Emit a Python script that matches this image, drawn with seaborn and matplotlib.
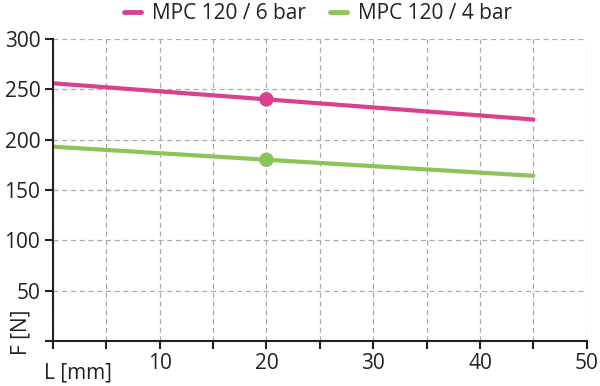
import matplotlib
matplotlib.use("Agg")
import matplotlib.pyplot as plt
import seaborn as sns
import pandas as pd
from matplotlib.lines import Line2D

# data
L = [0, 20, 45]
F_6bar = [256, 240, 220]
F_4bar = [193, 180, 164]
series_names = ["MPC 120 / 6 bar", "MPC 120 / 4 bar"]
marker_L = 20
marker_F = [240, 180]
colors = ["#d9408e", "#8cc45a"]
x_ticks = [0, 5, 10, 15, 20, 25, 30, 35, 40, 45, 50]
x_labels = ["", "", "10", "", "20", "", "30", "", "40", "", "50"]
y_ticks = [0, 50, 100, 150, 200, 250, 300]
y_labels = ["", "50", "100", "150", "200", "250", "300"]

sns.set_theme(style="white")
plt.rcParams["font.family"] = ["Open Sans", "DejaVu Sans"]

df = pd.concat([
    pd.DataFrame({"L": L, "F": F_6bar, "series": series_names[0]}),
    pd.DataFrame({"L": L, "F": F_4bar, "series": series_names[1]}),
])
dm = pd.DataFrame({"L": [marker_L, marker_L], "F": marker_F, "series": series_names})

fig = plt.figure(figsize=(6.0, 3.86), dpi=100)
ax = fig.add_axes([0.088, 0.117, 0.890, 0.782])

palette = dict(zip(series_names, colors))
sns.lineplot(data=df, x="L", y="F", hue="series", palette=palette, linewidth=3.0,
             ax=ax, legend=False, zorder=3)
sns.scatterplot(data=dm, x="L", y="F", hue="series", palette=palette, s=110,
                edgecolor="none", ax=ax, legend=False, zorder=4)

ax.set_xlim(0, 50)
ax.set_ylim(0, 300)
ax.set_xticks(x_ticks)
ax.set_xticklabels(x_labels)
ax.set_yticks(y_ticks)
ax.set_yticklabels(y_labels)
ax.set_xlabel("")
ax.set_ylabel("")

ax.grid(True, color="#aaaaaa", linestyle=(0, (4, 3)), linewidth=0.9, zorder=0)
for s in ["top", "right"]:
    ax.spines[s].set_visible(False)
for s in ["left", "bottom"]:
    ax.spines[s].set_color("#222222")
    ax.spines[s].set_linewidth(1.5)
    ax.spines[s].set_zorder(5)
ax.tick_params(axis="both", direction="out", length=6, width=1.5, color="#222222",
               labelsize=15, labelcolor="#222222", pad=3, bottom=True, left=True)

ax.text(-0.8, -22, "L [mm]", ha="left", va="top", fontsize=15, color="#222222",
        transform=ax.transData, clip_on=False)
ax.text(-3.0, 8, "F [N]", ha="center", va="center", rotation=90, fontsize=15,
        color="#222222", transform=ax.transData, clip_on=False)

handles = [Line2D([0], [0], color=c, linewidth=3.5) for c in colors]
fig.legend(handles, series_names, loc="center", bbox_to_anchor=(0.53, 0.965), ncol=2,
           frameon=False, fontsize=15, handlelength=0.8, handletextpad=0.5,
           columnspacing=1.2, labelcolor="#222222")

fig.savefig("out.png", dpi=100)
